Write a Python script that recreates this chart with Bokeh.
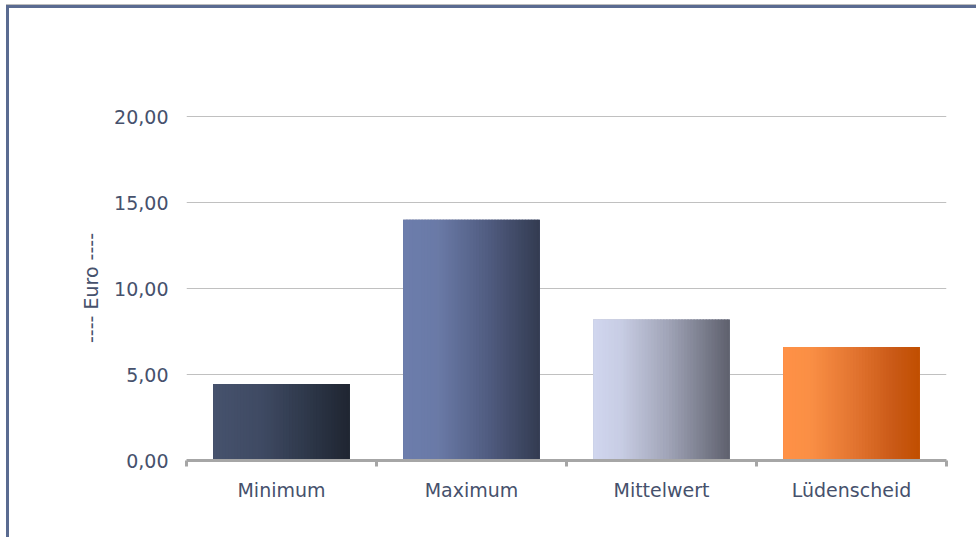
from bokeh.plotting import figure
from bokeh.models import Range1d, FixedTicker, ColumnDataSource
from bokeh.embed import file_html
from bokeh.resources import INLINE

# ---- data ----
categories = ["Minimum", "Maximum", "Mittelwert", "Lüdenscheid"]
values = [4.45, 14.0, 8.2, 6.6]
y_ticks = [0, 5, 10, 15, 20]
y_tick_labels = ["0,00", "5,00", "10,00", "15,00", "20,00"]
y_axis_title = "---- Euro ----"

# ---- styles ----
gradients = [
    [(0.0, "#46526d"), (0.35, "#3f4a63"), (0.65, "#303a4d"), (1.0, "#1f2531")],
    [(0.0, "#6c7dac"), (0.25, "#6a7aa7"), (0.6, "#525e83"), (1.0, "#333b51")],
    [(0.0, "#d0d6ef"), (0.2, "#c8cde4"), (0.55, "#a0a4b7"), (1.0, "#5e606d")],
    [(0.0, "#ff9146"), (0.2, "#fa8f45"), (0.55, "#e0722e"), (0.8, "#ca5a17"), (1.0, "#c04e00")],
]
text_color = "#46516c"
font = "DejaVu Sans"
bar_width = 0.72
n_strips = 45


def hex2rgb(h):
    h = h.lstrip("#")
    return tuple(int(h[i:i + 2], 16) for i in (0, 2, 4))


def color_at(stops, t):
    for (p0, c0), (p1, c1) in zip(stops[:-1], stops[1:]):
        if t <= p1:
            f = 0 if p1 == p0 else (t - p0) / (p1 - p0)
            a, b = hex2rgb(c0), hex2rgb(c1)
            return "#%02x%02x%02x" % tuple(round(a[k] + (b[k] - a[k]) * f) for k in range(3))
    return stops[-1][1]


p = figure(
    width=970, height=532,
    x_range=Range1d(0, len(categories)), y_range=Range1d(0, 20.06),
    output_backend="svg", toolbar_location=None,
    min_border_left=177, min_border_right=33, min_border_top=107, min_border_bottom=80,
    background_fill_color="white", border_fill_color="white",
)
p.outline_line_color = None
p.styles = {
    "border-left": "3px solid #5a6b91",
    "border-top": "3px solid #5a6b91",
    "margin-left": "6px",
    "margin-top": "5px",
    "box-shadow": "0px -1px 0px #bdbdbd",
}

# base bars (one per category)
centers = [i + 0.5 for i in range(len(categories))]
base = ColumnDataSource(dict(x=centers, top=values, cat=categories,
                             color=[g[2][1] for g in gradients]))
p.vbar(x="x", top="top", bottom=0, width=bar_width, source=base,
       fill_color="color", line_color=None)

# gradient strips over each bar
lefts, rights, tops, cols = [], [], [], []
step = bar_width / n_strips
for i, v in enumerate(values):
    x0 = centers[i] - bar_width / 2
    for k in range(n_strips):
        l = x0 + k * step
        r = l + step * (1.5 if k < n_strips - 1 else 1.0)
        lefts.append(l)
        rights.append(r)
        tops.append(v)
        cols.append(color_at(gradients[i], (k + 0.5) / n_strips))
p.quad(left=lefts, right=rights, top=tops, bottom=0, fill_color=cols, line_color=None)

# x axis
xa = p.xaxis[0]
xa.ticker = FixedTicker(ticks=centers, minor_ticks=list(range(len(categories) + 1)))
xa.major_label_overrides = {c: n for c, n in zip(centers, categories)}
xa.major_tick_line_color = None
xa.major_tick_out = 0
xa.major_tick_in = 0
xa.minor_tick_out = 6
xa.minor_tick_in = 0
xa.minor_tick_line_color = "#a6a6a6"
xa.minor_tick_line_width = 3
xa.axis_line_color = "#a6a6a6"
xa.axis_line_width = 3
xa.major_label_standoff = 12
xa.major_label_text_font = font
xa.major_label_text_font_size = "19px"
xa.major_label_text_color = text_color

# y axis
ya = p.yaxis[0]
ya.ticker = FixedTicker(ticks=y_ticks)
ya.major_label_overrides = {t: s for t, s in zip(y_ticks, y_tick_labels)}
ya.axis_line_color = None
ya.major_tick_line_color = None
ya.minor_tick_line_color = None
ya.major_tick_out = 0
ya.major_tick_in = 0
ya.major_label_standoff = 18
ya.major_label_text_font = font
ya.major_label_text_font_size = "19px"
ya.major_label_text_color = text_color
ya.axis_label = y_axis_title
ya.axis_label_text_font = font
ya.axis_label_text_font_size = "19px"
ya.axis_label_text_font_style = "normal"
ya.axis_label_text_color = text_color
ya.axis_label_standoff = 9

p.xgrid.grid_line_color = None
p.ygrid.grid_line_color = "#c0c0c0"
p.ygrid.grid_line_width = 1
p.ygrid.ticker = FixedTicker(ticks=y_ticks)

open("out.html", "w").write(file_html(p, INLINE))
